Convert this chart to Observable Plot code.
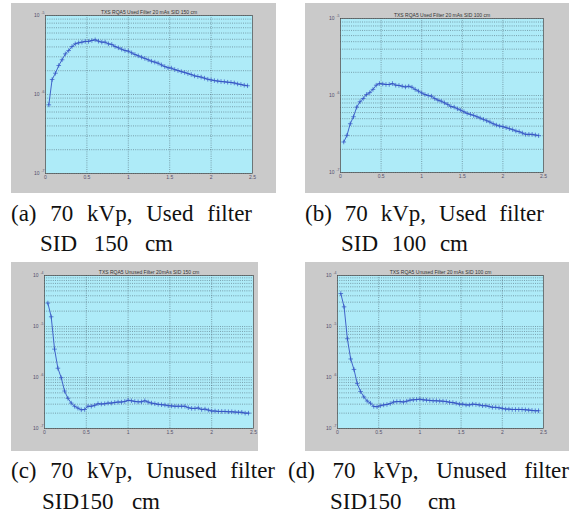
<!DOCTYPE html>
<html>
<head>
<meta charset="utf-8">
<script src="https://cdn.jsdelivr.net/npm/d3@7"></script>
<script src="https://cdn.jsdelivr.net/npm/@observablehq/plot@0.6"></script>
<style>
  html, body { margin: 0; padding: 0; background: #fff; }
  #root { position: relative; width: 572px; height: 515px; overflow: hidden; background: #fff; }
  .panel { position: absolute; }
  .panel svg { display: block; }
  .cap { position: absolute; font-family: "Liberation Serif", "Times New Roman", serif; font-size: 23px; line-height: 23px; color: #111; text-align: justify; text-align-last: justify; white-space: normal; }
</style>
</head>
<body>
<div id="root"></div>
<script>
// spatial frequency (shared x values)
const freq = [0.04,0.08,0.12,0.16,0.20,0.24,0.28,0.32,0.36,0.40,0.44,0.48,0.52,0.56,0.60,0.64,0.68,0.72,0.76,0.80,
  0.84,0.88,0.92,0.96,1.00,1.04,1.08,1.12,1.16,1.20,1.24,1.28,1.32,1.36,1.40,1.44,1.48,1.52,1.56,1.60,
  1.64,1.68,1.72,1.76,1.80,1.84,1.88,1.92,1.96,2.00,2.04,2.08,2.12,2.16,2.20,2.24,2.28,2.32,2.36,2.40,2.44];

// (a) Used filter, SID 150 cm
const seriesA = [0.74e-6,1.55e-6,1.86e-6,2.33e-6,2.75e-6,3.27e-6,3.6e-6,4.05e-6,4.38e-6,4.51e-6,
  4.6e-6,4.7e-6,4.7e-6,4.83e-6,4.92e-6,4.73e-6,4.6e-6,4.6e-6,4.38e-6,4.3e-6,
  4.05e-6,3.9e-6,3.74e-6,3.6e-6,3.54e-6,3.37e-6,3.21e-6,3.09e-6,2.97e-6,2.86e-6,
  2.75e-6,2.64e-6,2.57e-6,2.49e-6,2.37e-6,2.26e-6,2.18e-6,2.16e-6,2.07e-6,2.01e-6,
  1.95e-6,1.9e-6,1.84e-6,1.79e-6,1.72e-6,1.69e-6,1.66e-6,1.61e-6,1.56e-6,1.53e-6,
  1.5e-6,1.48e-6,1.46e-6,1.45e-6,1.43e-6,1.42e-6,1.4e-6,1.36e-6,1.34e-6,1.31e-6,1.29e-6];

// (b) Used filter, SID 100 cm
const seriesB = [0.249e-6,0.304e-6,0.43e-6,0.53e-6,0.707e-6,0.83e-6,0.914e-6,1.03e-6,1.09e-6,1.2e-6,
  1.36e-6,1.43e-6,1.41e-6,1.39e-6,1.39e-6,1.43e-6,1.36e-6,1.35e-6,1.32e-6,1.29e-6,
  1.32e-6,1.28e-6,1.2e-6,1.14e-6,1.08e-6,1.03e-6,1.0e-6,0.98e-6,0.914e-6,0.87e-6,
  0.845e-6,0.804e-6,0.765e-6,0.72e-6,0.707e-6,0.672e-6,0.646e-6,0.615e-6,0.585e-6,0.568e-6,
  0.551e-6,0.53e-6,0.51e-6,0.49e-6,0.47e-6,0.452e-6,0.43e-6,0.413e-6,0.401e-6,0.393e-6,
  0.382e-6,0.371e-6,0.36e-6,0.346e-6,0.339e-6,0.326e-6,0.313e-6,0.313e-6,0.313e-6,0.307e-6,0.301e-6];

// (c) Unused filter, SID 150 cm
const seriesC = [28.8e-6,15.5e-6,3.6e-6,1.52e-6,0.99e-6,0.543e-6,0.391e-6,0.315e-6,0.273e-6,0.251e-6,
  0.233e-6,0.236e-6,0.273e-6,0.273e-6,0.285e-6,0.306e-6,0.302e-6,0.306e-6,0.315e-6,0.315e-6,
  0.324e-6,0.33e-6,0.33e-6,0.339e-6,0.358e-6,0.35e-6,0.339e-6,0.334e-6,0.334e-6,0.35e-6,
  0.33e-6,0.315e-6,0.306e-6,0.298e-6,0.293e-6,0.289e-6,0.28e-6,0.277e-6,0.273e-6,0.273e-6,
  0.273e-6,0.273e-6,0.256e-6,0.248e-6,0.248e-6,0.253e-6,0.236e-6,0.24e-6,0.23e-6,0.22e-6,
  0.22e-6,0.216e-6,0.216e-6,0.216e-6,0.213e-6,0.213e-6,0.21e-6,0.208e-6,0.208e-6,0.2e-6,0.2e-6];

// (d) Unused filter, SID 100 cm
const seriesD = [44.3e-6,24.3e-6,5.75e-6,2.31e-6,1.44e-6,0.759e-6,0.531e-6,0.416e-6,0.346e-6,0.313e-6,
  0.271e-6,0.267e-6,0.279e-6,0.29e-6,0.296e-6,0.308e-6,0.331e-6,0.337e-6,0.337e-6,0.331e-6,
  0.343e-6,0.36e-6,0.365e-6,0.37e-6,0.375e-6,0.365e-6,0.36e-6,0.355e-6,0.35e-6,0.35e-6,
  0.346e-6,0.343e-6,0.337e-6,0.327e-6,0.322e-6,0.313e-6,0.3e-6,0.3e-6,0.29e-6,0.29e-6,
  0.3e-6,0.296e-6,0.29e-6,0.28e-6,0.28e-6,0.271e-6,0.26e-6,0.26e-6,0.255e-6,0.248e-6,
  0.24e-6,0.24e-6,0.236e-6,0.236e-6,0.236e-6,0.236e-6,0.233e-6,0.23e-6,0.226e-6,0.223e-6,0.223e-6];

const xTickLabels = [0, 0.5, 1, 1.5, 2, 2.5];
const yTicksTop = [1e-7, 1e-6, 1e-5];
const yTicksBottom = [1e-7, 1e-6, 1e-5, 1e-4];

const titles = [
  "TXS RQA5 Used Filter 20 mAs SID 150 cm",
  "TXS RQA5 Used Filter 20 mAs SID 100 cm",
  "TXS RQA5 Unused Filter 20mAs SID 150 cm",
  "TXS RQA5 Unused Filter 20 mAs SID 100 cm"
];
const captionLine1 = ["(a) 70 kVp, Used filter", "(b) 70 kVp, Used filter", "(c) 70 kVp, Unused filter", "(d) 70 kVp, Unused filter"];
const captionLine2 = ["SID 150 cm", "SID 100 cm", "SID150 cm", "SID150 cm"];

const expOf = d => String(Math.round(Math.log10(d)));

const CYAN = "#aeebf8";
const GRAY = "#cacaca";
const BLUE = "#3453c4";
const LABEL = "#55506a";
const GRID = {stroke: "#2b3440", strokeOpacity: 0.7, strokeWidth: 0.6, strokeDasharray: "1,1.2"};

function panel(series, yTicks, title, box) {
  const data = freq.map((f, i) => ({f, v: series[i]}));
  const yDom = [yTicks[0], yTicks[yTicks.length - 1]];
  const minor = d3.scaleLog().domain(yDom).ticks(20);
  return Plot.plot({
    width: box.w, height: box.h,
    marginLeft: box.l, marginRight: box.r, marginTop: box.t, marginBottom: box.b,
    style: {background: GRAY, fontFamily: "'Liberation Sans', Arial, sans-serif", fontSize: "5px", color: LABEL, overflow: "visible"},
    x: {domain: [0, 2.5], axis: null},
    y: {type: "log", domain: yDom, axis: null},
    marks: [
      Plot.frame({fill: CYAN}),
      Plot.gridY(minor, GRID),
      Plot.gridX(xTickLabels.slice(1, -1), GRID),
      Plot.frame({stroke: "#4a4a4a", strokeWidth: 0.7}),
      Plot.axisX(xTickLabels, {tickSize: 0, tickPadding: 2, tickFormat: d => String(d), fontSize: 5, label: null}),
      Plot.axisY(yTicks, {tickSize: 0, tickPadding: 6, tickFormat: () => "10", fontSize: 5, label: null}),
      Plot.text(yTicks, {frameAnchor: "left", y: d => d, text: expOf, dx: -1, dy: -2.5, textAnchor: "end", fontSize: 3.5, fill: LABEL}),
      Plot.line(data, {x: "f", y: "v", stroke: BLUE, strokeWidth: 0.9}),
      Plot.dot(data, {x: "f", y: "v", symbol: "plus", r: 1.6, stroke: BLUE, strokeWidth: 0.7}),
      Plot.text([title], {frameAnchor: "top", dy: -2, lineAnchor: "bottom", fontSize: 5, fill: "#333"})
    ]
  });
}

const boxes = [
  {x: 11, y: 3, w: 265, h: 190, l: 34, r: 24, t: 12, b: 20},
  {x: 305, y: 3, w: 264, h: 190, l: 35, r: 26, t: 15, b: 21},
  {x: 11, y: 262, w: 247, h: 189, l: 33, r: 5, t: 13, b: 23},
  {x: 305, y: 262, w: 264, h: 189, l: 32, r: 26, t: 13, b: 23}
];
const allSeries = [seriesA, seriesB, seriesC, seriesD];
const allTicks = [yTicksTop, yTicksTop, yTicksBottom, yTicksBottom];

const root = document.getElementById("root");
boxes.forEach((bx, i) => {
  const div = document.createElement("div");
  div.className = "panel";
  div.style.left = bx.x + "px";
  div.style.top = bx.y + "px";
  div.appendChild(panel(allSeries[i], allTicks[i], titles[i], bx));
  root.appendChild(div);
});

// captions: [left, top, width] for line 1 and line 2
const cap1 = [[11, 202, 241], [305, 202, 239], [11, 459, 264], [288, 459, 281]];
const cap2 = [[40, 232, 133], [341, 232, 127], [42, 490, 118], [330, 490, 126]];
function addCap(text, pos) {
  const d = document.createElement("div");
  d.className = "cap";
  d.style.left = pos[0] + "px";
  d.style.top = pos[1] + "px";
  d.style.width = pos[2] + "px";
  d.textContent = text;
  root.appendChild(d);
}
captionLine1.forEach((t, i) => addCap(t, cap1[i]));
captionLine2.forEach((t, i) => addCap(t, cap2[i]));
</script>
</body>
</html>
